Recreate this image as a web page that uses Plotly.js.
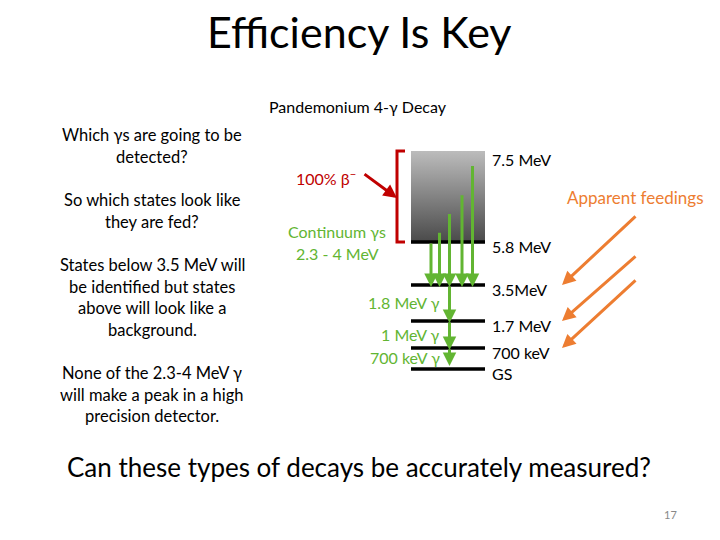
<!DOCTYPE html>
<html>
<head>
<meta charset="utf-8">
<script src="https://cdn.plot.ly/plotly-3.0.1.min.js"></script>
<style>html,body{margin:0;padding:0;background:#fff;}#chart{width:720px;height:540px;}</style>
</head>
<body>
<div id="chart"></div>
<script>
// ---- data ----
const titleText = 'Efficiency Is Key';
const subtitleText = 'Pandemonium 4-γ Decay';
const levelEnergies = [5.8, 3.5, 1.7, 0.7, 0];
const levelLabels = ['5.8 MeV', '3.5MeV', '1.7 MeV', '700 keV', 'GS'];
const topEnergy = 7.5;
const topLabel = '7.5 MeV';
const continuumStarts = [5.8, 6.0, 6.35, 6.7, 7.25];
const continuumEnd = 3.5;
const cascadeFrom = [3.5, 1.7, 0.7];
const cascadeTo = [1.7, 0.7, 0];
const cascadeLabels = ['1.8 MeV γ', '1 MeV γ', '700 keV γ'];
const feedingTargets = [3.5, 1.7, 0.7];
const leftParagraphs = [
  ['Which γs are going to be', 'detected?'],
  ['So which states look like', 'they are fed?'],
  ['States below 3.5 MeV will', 'be identified but states', 'above will look like a', 'background.'],
  ['None of the 2.3-4 MeV γ', 'will make a peak in a high', 'precision detector.']
];
const questionText = 'Can these types of decays be accurately measured?';
const pageNumber = '17';

// ---- layout helpers (slide coordinates) ----
const FONT = 'Lato, "Open Sans", sans-serif';
const GREEN = '#62b532', RED = '#c00000', ORANGE = '#ed7d31';
const scaleE = [0, 0.7, 1.7, 3.5, 5.8, 7.5];
const scaleY = [369, 348, 321, 285, 242, 151];
function yOf(e) {
  for (let i = 0; i < scaleE.length - 1; i++) {
    if (e >= scaleE[i] && e <= scaleE[i + 1]) {
      const t = (e - scaleE[i]) / (scaleE[i + 1] - scaleE[i]);
      return scaleY[i] + t * (scaleY[i + 1] - scaleY[i]);
    }
  }
  return scaleY[scaleY.length - 1];
}
const boxX0 = 411, boxX1 = 485;
const continuumX = [431, 439.5, 449.5, 462, 472.5];
const cascadeX = 449.5;

const traces = [];
// gradient box for the continuum region
traces.push({
  type: 'scatter', mode: 'lines', hoverinfo: 'skip', showlegend: false,
  x: [boxX0, boxX1, boxX1, boxX0, boxX0],
  y: [yOf(topEnergy), yOf(topEnergy), yOf(levelEnergies[0]), yOf(levelEnergies[0]), yOf(topEnergy)],
  fill: 'toself', line: {width: 0},
  fillgradient: {type: 'vertical', colorscale: [[0, '#4a4a4a'], [1, '#bcbcbc']]}
});

const shapes = [];
const annotations = [];

// level lines and labels
levelEnergies.forEach((e, i) => {
  shapes.push({type: 'line', xref: 'x', yref: 'y', x0: boxX0, x1: boxX1, y0: yOf(e), y1: yOf(e),
    line: {color: '#000', width: 3.5}});
  annotations.push({x: 490, y: yOf(e) + 4, xref: 'x', yref: 'y', text: levelLabels[i], showarrow: false,
    xanchor: 'left', yanchor: 'middle', font: {family: FONT, size: 16, color: '#000'}});
});
annotations.push({x: 490, y: yOf(topEnergy) + 8, xref: 'x', yref: 'y', text: topLabel, showarrow: false,
  xanchor: 'left', yanchor: 'middle', font: {family: FONT, size: 16, color: '#000'}});

// red bracket
shapes.push({type: 'path', xref: 'x', yref: 'y',
  path: `M 405 ${yOf(topEnergy)} L 397 ${yOf(topEnergy)} L 397 ${yOf(levelEnergies[0])} L 405 ${yOf(levelEnergies[0])}`,
  line: {color: RED, width: 3}});

function arrow(x0, y0, x1, y1, color, width, size) {
  annotations.push({x: x1, y: y1, ax: x0, ay: y0, xref: 'x', yref: 'y', axref: 'x', ayref: 'y',
    text: '', showarrow: true, arrowhead: 2, arrowsize: size, arrowwidth: width, arrowcolor: color, standoff: 0});
}
// red beta arrow
arrow(363, 173, 397, 198, RED, 3, 0.9);

// continuum gammas
continuumStarts.forEach((e, i) => {
  arrow(continuumX[i], yOf(e), continuumX[i], yOf(continuumEnd) + 2, GREEN, 3, 0.9);
});
// cascade gammas
cascadeFrom.forEach((e, i) => {
  arrow(cascadeX, yOf(e), cascadeX, yOf(cascadeTo[i]) - (i === 2 ? 3 : -2), GREEN, 3, 0.9);
});
// orange apparent feeding arrows
const feedStartY = [215, 255, 279];
feedingTargets.forEach((e, i) => {
  arrow(637, feedStartY[i], 562, yOf(e), ORANGE, 3, 0.9);
});

// texts
function txt(x, y, text, size, color, anchor) {
  annotations.push({x: x, y: y, xref: 'x', yref: 'y', text: text, showarrow: false,
    xanchor: anchor || 'center', yanchor: 'middle', font: {family: FONT, size: size, color: color || '#000'}});
}
txt(359, 31, titleText, 43);
txt(358, 106, subtitleText, 16);
txt(326, 177, '100% β<sup>−</sup>', 16, RED);
txt(337, 231, 'Continuum γs', 16, GREEN);
txt(337, 253, '2.3 - 4 MeV', 16, GREEN);
const cascadeLabelY = [302, 334, 357];
cascadeLabels.forEach((t, i) => txt(442, cascadeLabelY[i], t, 16, GREEN, 'right'));
txt(635, 197, 'Apparent feedings', 17, ORANGE);

const paraTop = [135, 200, 265, 373];
leftParagraphs.forEach((lines, p) => {
  lines.forEach((line, j) => txt(152, paraTop[p] + j * 21.5, line, 16.5));
});
txt(359, 467, questionText, 26);
txt(670, 514, pageNumber, 11, '#888');

const layout = {
  width: 720, height: 540,
  margin: {l: 0, r: 0, t: 0, b: 0},
  paper_bgcolor: '#fff', plot_bgcolor: '#fff',
  xaxis: {range: [0, 720], visible: false, fixedrange: true},
  yaxis: {range: [540, 0], visible: false, fixedrange: true},
  showlegend: false,
  shapes: shapes,
  annotations: annotations
};
Plotly.newPlot('chart', traces, layout, {displayModeBar: false, staticPlot: true});
</script>
</body>
</html>
